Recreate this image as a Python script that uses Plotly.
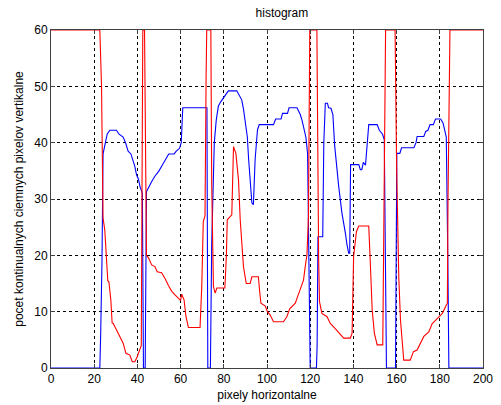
import plotly.graph_objects as go

# Blue series breakpoints (x, value)
blue_x = [0, 22.6, 23, 23.6, 24.1, 25, 26, 27.2, 30.3, 31.5, 33.4, 34.5, 35.7, 37, 38.2, 38.8, 39.6, 40.5, 41.2, 42.3, 42.8,
          43.6, 44.2, 45, 46.5, 48, 50, 51.5, 53, 54.5, 57, 58, 59.5, 60.3, 61, 72.2, 72.6, 73.8, 74.4, 75, 75.6, 76.5,
          77.5, 78.5, 79.8, 81, 82.1, 86, 87.3, 88.3, 89.1, 89.9, 90.9, 91.5, 92.2, 93, 93.7, 94.5, 95.6, 96.4, 103,
          104, 106.5, 107.2, 109.5, 110.2, 113.9, 115.4, 116.2, 116.9, 118, 118.8, 119.5, 120, 122.9, 123.2, 123.6,
          125.8, 126.3, 127, 128, 128.5, 129.6, 130.5, 131.3, 132.2, 133.2, 134.7, 135.5, 136.3, 137, 137.8, 138.3,
          138.7, 142.5, 143.2, 143.9, 144.6, 145.6, 146.5, 147.1, 151, 152, 153.5, 154.3, 154.8, 155.3, 159.5, 159.8,
          160.1, 161.5, 162.3, 168, 169, 169.5, 172.6, 173.5, 174.5, 175.5, 177, 178, 180.4, 181.5, 182.5, 183, 183.7,
          184.2, 200]
blue_y = [0, 0, 6, 19, 38, 40, 41.5, 42.2, 42.2, 41.5, 41, 40, 38.5, 38, 36.5, 35.8, 34.3, 33.5, 32.2, 31, 0,
          0, 31.3, 32, 33, 34, 35, 36, 37, 38, 38, 38.5, 39, 40, 46.2, 46.2, 0, 0, 22, 34, 40, 44,
          46.5, 47.2, 48, 48.5, 49.2, 49.2, 48.2, 47.6, 46, 44, 41, 37, 32.8, 29.3, 29, 37, 42.3, 43.2, 43.2,
          44.2, 44.2, 45.2, 45.2, 46.2, 46.2, 45, 44, 43, 41, 38, 20, 0, 0, 4, 23.3,
          23.3, 40, 47, 47, 46.2, 46.1, 45, 39.6, 36, 32.2, 27.5, 26, 23.9, 22, 20.4, 20.4,
          36.1, 36.1, 35.2, 35.2, 36.5, 36, 40, 43.2, 43.2, 42.2, 41.5, 40.5, 20, 0, 0, 20,
          38.1, 38.1, 39.1, 39.1, 40, 41.1, 41.1, 42, 42.2, 43.2, 43.2, 44.2, 44.2, 43.5, 42, 41, 20,
          0, 0]

# Red series breakpoints (x, value)
red_x = [0, 22.6, 23, 23.4, 23.6, 23.8, 24.1, 24.9, 25.7, 26.3, 26.8, 27.7, 28.3, 28.8, 30, 31.1, 32.5, 33.4, 34.7,
         36.5, 37.6, 38.8, 39.9, 41.2, 41.8, 42.3, 42.5, 43.3, 43.5, 43.8, 44.2, 45.2, 46.6, 48.1, 49.2, 51.2, 52.8,
         54.3, 55.9, 57.4, 59.1, 60, 60.5, 61.6, 62.5, 63.6, 69, 69.8, 70.5, 71.3, 71.8, 72.1, 74.0, 74.2, 74.4, 75.2,
         76, 76.8, 80.5, 81.2, 81.6, 83.7, 84.5, 85.6, 86.8, 87.6, 88.3, 89.1, 90.4, 92.2, 93, 96, 96.5, 97.2, 99.2,
         100.2, 101.5, 103, 107.6, 109.2, 110.5, 111.5, 113.1, 114.3, 115.4, 116.9, 117.7, 118.5, 119.2, 119.8, 123.1,
         123.3, 123.6, 123.9, 124.3, 125.4, 127.8, 129.3, 131.6, 133.6, 135.5, 138.6, 139.4, 140.1, 141.4, 142.5,
         147.1, 147.9, 148.7, 149.7, 151, 153.6, 153.9, 154.3, 154.9, 159.3, 159.5, 160, 160.6, 161, 161.8, 162.6,
         163.3, 166.3, 167.8, 169.5, 171, 172.6, 174.9, 176.5, 178.1, 179.6, 181.2, 182.7, 183.5, 183.8, 184.2, 184.7,
         200]
red_y = [60, 60, 55, 50, 43, 35, 26.6, 24.5, 18.9, 15.5, 15.3, 12.1, 8, 7.9, 7, 6.2, 5, 4.4, 2.6,
         2.3, 1.1, 1.1, 2, 3.5, 4, 45, 60, 60, 50, 31, 20, 19.5, 18.3, 18, 17.1, 16.9, 15.9,
         14.7, 13.6, 13, 12.4, 12, 13.1, 12.1, 9.1, 7.2, 7.2, 14.5, 26, 27, 51.5, 60, 60, 45, 32.8, 14.5,
         13.3, 14.2, 14.2, 20, 26.3, 27.2, 39.3, 38.1, 33.4, 26.3, 21.5, 18, 15, 15, 16.2, 16.2, 14, 11.5, 11,
         10, 9.4, 8.2, 8.2, 9.1, 10.5, 10.9, 11.5, 12.8, 13.9, 15.6, 18, 20.1, 27, 60, 60,
         45, 30, 19.5, 11.8, 9.7, 9.1, 7.9, 7, 6.2, 5.3, 5.3, 6.2, 19.8, 24.2, 25.2,
         25.2, 18, 10.3, 6.2, 4.1, 4.1, 20, 40, 60, 60, 52.4, 36, 24, 16.2, 8.5, 3.8,
         1.4, 1.4, 2.9, 3.2, 4.4, 5.6, 6.4, 7.9, 8.5, 9.1, 9.7, 10.9, 11.5, 30, 50, 60,
         60]

x_ticks = [0, 20, 40, 60, 80, 100, 120, 140, 160, 180, 200]
y_ticks = [0, 10, 20, 30, 40, 50, 60]

FONT = "Liberation Sans, Arial, sans-serif"

fig = go.Figure()
fig.add_trace(go.Scatter(x=blue_x, y=blue_y, mode="lines",
                         line=dict(color="#0000ff", width=1.1), showlegend=False))
fig.add_trace(go.Scatter(x=red_x, y=red_y, mode="lines",
                         line=dict(color="#ff0000", width=1.1), showlegend=False))

axis_common = dict(showline=True, mirror="ticks", linecolor="#404040", linewidth=1,
                   ticks="inside", ticklen=4, tickcolor="#404040",
                   showgrid=True, gridcolor="#000000", gridwidth=1, griddash="3px,3px",
                   zeroline=False, automargin=False,
                   tickfont=dict(family=FONT, size=12, color="#000000"))

fig.update_layout(
    width=501, height=405,
    margin=dict(l=51, r=18, t=30, b=37, autoexpand=False),
    paper_bgcolor="white", plot_bgcolor="white",
    title=dict(text="histogram", x=0.5345, xanchor="center", y=1 - 13 / 405, yanchor="middle",
               xref="paper",
               font=dict(family=FONT, size=12, color="#000000")),
    xaxis=dict(range=[0, 200], tickvals=x_ticks, ticktext=[str(v) for v in x_ticks],
               title=dict(text="pixely horizontalne", standoff=5,
                          font=dict(family=FONT, size=12, color="#000000")),
               **axis_common),
    yaxis=dict(range=[0, 60], tickvals=y_ticks, ticktext=[str(v) for v in y_ticks],
               title=dict(text="pocet kontinualnych ciemnych pixelov vertikalne", standoff=8,
                          font=dict(family=FONT, size=12, color="#000000")),
               **axis_common),
)

fig.write_html("out.html", config={"displayModeBar": False},
               post_script="document.body.style.margin='0';document.body.style.overflow='hidden';")
